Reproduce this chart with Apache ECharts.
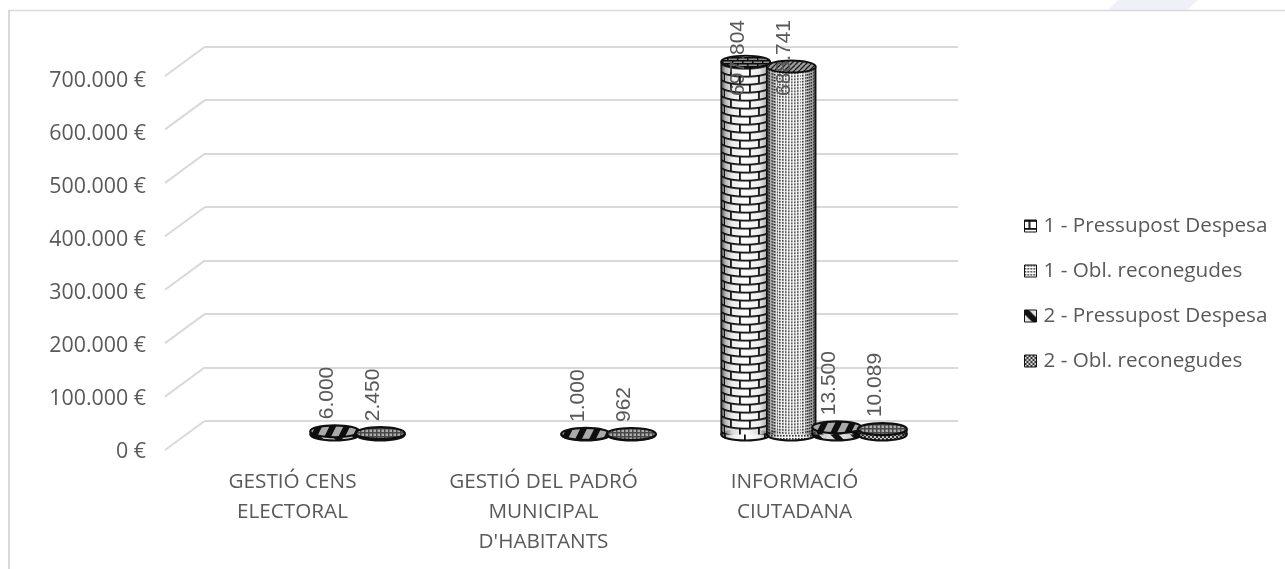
<!DOCTYPE html>
<html><head><meta charset="utf-8">
<style>html,body{margin:0;padding:0;background:#fff}#c{width:1285px;height:569px}</style>
<script src="https://cdn.jsdelivr.net/npm/echarts@6/dist/echarts.min.js"></script>
</head><body><div id="c"></div>
<script>
const categories = ["GESTIÓ CENS\nELECTORAL", "GESTIÓ DEL PADRÓ\nMUNICIPAL\nD'HABITANTS", "INFORMACIÓ\nCIUTADANA"];
const seriesNames = ["1 - Pressupost Despesa", "1 - Obl. reconegudes", "2 - Pressupost Despesa", "2 - Obl. reconegudes"];
const pressupost1 = [null, null, 697804];
const obligacions1 = [null, null, 688741];
const pressupost2 = [6000, 1000, 13500];
const obligacions2 = [2450, 962, 10089];
const yTicks = [0, 100000, 200000, 300000, 400000, 500000, 600000, 700000];

function fmt(v){ return String(v).replace(/\B(?=(\d{3})+(?!\d))/g, '.'); }

function tile(w, h, draw){
  const c = document.createElement('canvas'); c.width = w; c.height = h;
  draw(c.getContext('2d'), w, h); return {image: c, repeat: 'repeat'};
}
const bricks = tile(20, 16, (g, w, h) => {
  g.fillStyle = '#fff'; g.fillRect(0,0,w,h);
  g.fillStyle = '#111';
  g.fillRect(0,0,w,1.8); g.fillRect(0,8,w,1.8);
  g.fillRect(4,0,1.8,8); g.fillRect(14,8,1.8,8);
});
const dots = tile(3, 3, (g, w, h) => {
  g.fillStyle = '#fff'; g.fillRect(0,0,w,h);
  g.fillStyle = '#333'; g.fillRect(0,0,1.6,1.6);
});
const stripes = tile(20, 20, (g, w, h) => {
  g.fillStyle = '#e4e4e4'; g.fillRect(0,0,w,h);
  g.strokeStyle = '#111'; g.lineWidth = 6;
  for (let i = -1; i < 2; i++) { g.beginPath(); g.moveTo(i*w-2, -2); g.lineTo(i*w+w+2, h+2); g.stroke(); }
});
const checks = tile(4, 4, (g, w, h) => {
  g.fillStyle = '#d4d4d4'; g.fillRect(0,0,w,h);
  g.fillStyle = '#333'; g.fillRect(0,0,2,2); g.fillRect(2,2,2,2);
});
const topBricks = tile(10, 6, (g, w, h) => {
  g.fillStyle = '#aaa'; g.fillRect(0,0,w,h);
  g.fillStyle = '#111';
  g.fillRect(0,0,w,1.5); g.fillRect(0,3,w,1.5); g.fillRect(2,0,1.5,3); g.fillRect(7,3,1.5,3);
});
const hatch = tile(5, 5, (g, w, h) => {
  g.fillStyle = '#bbb'; g.fillRect(0,0,w,h);
  g.strokeStyle = '#222'; g.lineWidth = 1.3;
  for (let i = -1; i < 2; i++) { g.beginPath(); g.moveTo(i*w, h); g.lineTo(i*w+w, 0); g.stroke(); }
});
const topStripes = tile(28, 56, (g, w, h) => {
  g.fillStyle = '#c8c8c8'; g.fillRect(0,0,w,h);
  g.strokeStyle = '#111'; g.lineWidth = 6;
  for (let x = -56; x <= 56; x += 14) { g.beginPath(); g.moveTo(x, h); g.lineTo(x+28, 0); g.stroke(); }
});
const topChecks = tile(4, 4, (g, w, h) => {
  g.fillStyle = '#ccc'; g.fillRect(0,0,w,h);
  g.fillStyle = '#555'; g.fillRect(0,0,1.5,4); g.fillRect(0,0,4,1.5);
});
const patterns = [bricks, dots, stripes, checks];
const topPatterns = [topBricks, hatch, topStripes, topChecks];
const seriesValues = [pressupost1, obligacions1, pressupost2, obligacions2];

const measure = document.createElement('canvas').getContext('2d');
const labelFont = '21px "Liberation Sans"';
measure.font = labelFont;

function curvedBody(pat, cx, rx, ry, ty, by){
  const strips = [];
  const x0 = Math.round(cx - rx), x1 = Math.round(cx + rx);
  for (let x = x0; x < x1; x++) {
    const u = Math.max(-0.999, Math.min(0.999, (x + 0.5 - cx) / rx));
    const texX = rx * Math.asin(u);
    const bulge = ry * Math.sqrt(1 - u * u);
    strips.push({type:'rect', shape:{x, y:ty, width:1, height:by - ty},
      style:{fill:{image:pat.image, repeat:'repeat', x:x - Math.round(texX), y:ty + bulge}}});
  }
  return strips;
}

function cylinder(seriesIndex){
  return function(params, api){
    const v = api.value(1);
    if (v == null || isNaN(v)) return null;
    const c = api.value(0);
    const band = api.size([1, 0])[0];
    const base = api.coord([c, 0]);
    const top = api.coord([c, v]);
    const cx = base[0] - 18.5 + (seriesIndex - 1.5) * band * 0.1815;
    const by = base[1] + 13.8;
    const ty = top[1] + 13.8;
    const rx = 24.5, ry = 6;
    const pat = patterns[seriesIndex];
    const shade = {type:'linear', x:0, y:0, x2:1, y2:0, colorStops:[
      {offset:0, color:'rgba(0,0,0,0.75)'},{offset:0.08, color:'rgba(0,0,0,0.3)'},{offset:0.22, color:'rgba(0,0,0,0.08)'},
      {offset:0.5, color:'rgba(0,0,0,0)'},
      {offset:0.78, color:'rgba(0,0,0,0.08)'},{offset:0.92, color:'rgba(0,0,0,0.3)'},{offset:1, color:'rgba(0,0,0,0.75)'}]};
    const text = fmt(v);
    const len = measure.measureText(text).width;
    const ly = Math.max(ty - 12, 20 + len);
    const short = by - ty < 20;
    return {type:'group', children:[
      {type:'ellipse', shape:{cx, cy:by, rx, ry}, style:{fill:pat, stroke:'#111', lineWidth:2}},
      ...curvedBody(pat, cx, rx, ry, ty, by),
      {type:'ellipse', shape:{cx, cy:by, rx, ry}, style:{fill:shade}},
      {type:'rect', shape:{x:cx-rx, y:ty, width:rx*2, height:by-ty}, style:{fill:shade}},
      {type:'line', shape:{x1:cx-rx, y1:ty, x2:cx-rx, y2:by}, style:{stroke:'#111', lineWidth:1.5}},
      {type:'line', shape:{x1:cx+rx, y1:ty, x2:cx+rx, y2:by}, style:{stroke:'#111', lineWidth:1.5}},
      {type:'ellipse', shape:{cx, cy:ty, rx, ry}, style:{fill:topPatterns[seriesIndex], stroke:'#111', lineWidth:short ? 2.2 : 1.8}},
      {type:'ellipse', shape:{cx, cy:ty, rx, ry}, style:{fill:'rgba(0,0,0,0.15)'}},
      {type:'text', x:cx-7.5, y:ly, rotation:Math.PI/2,
        style:{text, font:labelFont, fill:'#595959', align:'left', verticalAlign:'middle'}}
    ]};
  };
}

const series = seriesNames.map((name, i) => ({
  name, type:'custom', xAxisIndex:1, yAxisIndex:1, z:5+i,
  itemStyle:{color:patterns[i]}, clip:false,
  renderItem:cylinder(i),
  encode:{x:0, y:1},
  data:seriesValues[i].map((v, c) => [c, v])
}));

series.unshift({
  type:'custom', xAxisIndex:1, yAxisIndex:1, z:1, silent:true, legendHoverLink:false,
  renderItem:(params, api) => {
    const end = api.coord([0, api.value(0)]);
    const x = end[0] - api.size([1,0])[0] / 2;
    return {type:'line', shape:{x1:x-40, y1:end[1]+29.3, x2:x, y2:end[1]},
      style:{stroke:'#d9d9d9', lineWidth:2}};
  },
  encode:{y:0},
  data:yTicks.map(v => [v])
});

const chart = echarts.init(document.getElementById('c'), null, {renderer:'canvas'});
chart.setOption({
  animation:false,
  backgroundColor:'#fff',
  textStyle:{fontFamily:'"Open Sans"'},
  graphic:[
    {type:'polygon', silent:true, z:-1, shape:{points:[[1118,0],[1198,0],[1187,10],[1108,10]]}, style:{fill:'#f0f1f8'}},
    {type:'line', silent:true, z:-1, shape:{x1:8,y1:10.5,x2:1285,y2:10.5}, style:{stroke:'#d9d9d9',lineWidth:1.5}},
    {type:'line', silent:true, z:-1, shape:{x1:9,y1:10,x2:9,y2:569}, style:{stroke:'#d9d9d9',lineWidth:2}}
  ],
  grid:[
    {left:167, top:81, width:753, height:371},
    {left:205, top:46.7, width:753, height:374}
  ],
  xAxis:[
    {type:'category', gridIndex:0, data:categories,
     axisLine:{show:false}, axisTick:{show:false}, splitLine:{show:false},
     axisLabel:{color:'#595959', fontSize:20.7, lineHeight:30, margin:15, interval:0, fontFamily:'"Open Sans"'}},
    {type:'category', gridIndex:1, data:categories,
     axisLine:{show:false}, axisTick:{show:false}, splitLine:{show:false}, axisLabel:{show:false}}
  ],
  yAxis:[
    {type:'value', gridIndex:0, min:0, max:700000, interval:100000,
     axisLine:{show:false}, axisTick:{show:false}, splitLine:{show:false},
     axisLabel:{color:'#595959', fontSize:21.4, margin:21, fontFamily:'"Open Sans"', formatter:v => fmt(v) + ' €'}},
    {type:'value', gridIndex:1, min:0, max:700000, interval:100000,
     axisLine:{show:false}, axisTick:{show:false}, axisLabel:{show:false},
     splitLine:{show:true, lineStyle:{color:'#d9d9d9', width:2}}}
  ],
  legend:{
    show:true, orient:'vertical', left:1019, top:207, itemWidth:12, itemHeight:12, itemGap:17, icon:'rect',
    data:seriesNames,
    itemStyle:{borderColor:'#111', borderWidth:1},
    textStyle:{color:'#595959', fontSize:20.7, lineHeight:28, fontFamily:'"Open Sans"', padding:[0,0,0,2]}
  },
  series
});
</script></body></html>
